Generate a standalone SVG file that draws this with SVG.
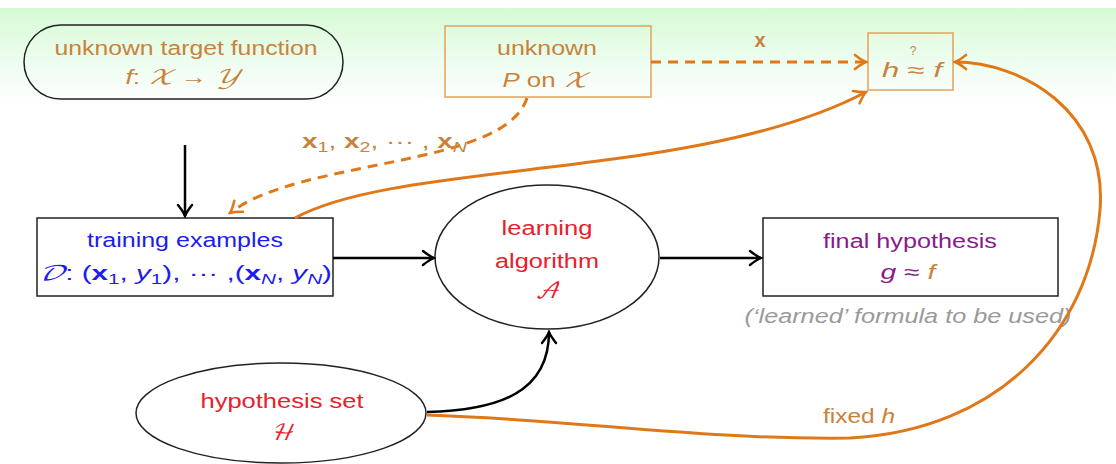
<svg xmlns="http://www.w3.org/2000/svg" width="1116" height="464" viewBox="0 0 1116 464">
<defs>
<linearGradient id="bg" x1="0" y1="0" x2="0" y2="1">
<stop offset="0" stop-color="#d6fbd4"/>
<stop offset="0.55" stop-color="#eefdf0"/>
<stop offset="1" stop-color="#ffffff"/>
</linearGradient>
<marker id="ab" viewBox="-14 -9 16 18" refX="0" refY="0" markerWidth="16" markerHeight="18" markerUnits="userSpaceOnUse" orient="auto">
<path d="M-11,-7 Q-4,-1.5 0,0 Q-4,1.5 -11,7" fill="none" stroke="#000" stroke-width="2.4" stroke-linecap="round"/>
</marker>
<marker id="ao" viewBox="-14 -9 16 18" refX="0" refY="0" markerWidth="16" markerHeight="18" markerUnits="userSpaceOnUse" orient="auto">
<path d="M-11,-7 Q-4,-1.5 0,0 Q-4,1.5 -11,7" fill="none" stroke="#e07818" stroke-width="2.6" stroke-linecap="round"/>
</marker>
</defs>
<style>
text{font-family:"Liberation Sans",Arial,sans-serif;font-size:20px}
.m{text-anchor:middle}
.or{fill:#c8823c}
.bl{fill:#1c1cf0}
.rd{fill:#e8202a}
.pu{fill:#8a1a8a}
.gy{fill:#9a9a9a;font-style:italic}
.it{font-style:italic}
.bd{font-weight:bold}
.box{fill:#fff;stroke:#222;stroke-width:1.5}
.obox{fill:none;stroke:#e3a05c;stroke-width:1.5}
.blk{fill:none;stroke:#000;stroke-width:2.5}
.orl{fill:none;stroke:#e07818;stroke-width:3}
.dash{stroke-dasharray:10 7}
.cal{font-family:"DejaVu Math TeX Gyre","DejaVu Serif","Liberation Serif",serif;font-style:italic}
</style>
<rect x="0" y="8" width="1116" height="100" fill="url(#bg)"/>

<g id="target">
<rect x="24" y="25" width="319" height="74" rx="37" ry="37" fill="none" stroke="#222" stroke-width="1.5"/>
<text class="m or" x="186" y="55" textLength="263" lengthAdjust="spacingAndGlyphs">unknown target function</text>
<text class="m or" x="183" y="84" textLength="115" lengthAdjust="spacingAndGlyphs"><tspan class="it">f</tspan>: <tspan class="cal">𝒳</tspan> → <tspan class="cal">𝒴</tspan></text>
</g>

<g id="pdist">
<rect class="obox" x="445" y="26" width="206" height="71"/>
<text class="m or" x="547" y="55" textLength="100" lengthAdjust="spacingAndGlyphs">unknown</text>
<text class="m or" x="545" y="87" textLength="85" lengthAdjust="spacingAndGlyphs"><tspan class="it">P</tspan> on <tspan class="cal">𝒳</tspan></text>
</g>

<g id="hf">
<rect class="obox" x="868" y="33" width="85" height="57"/>
<text class="m or" x="912" y="77" textLength="60" lengthAdjust="spacingAndGlyphs"><tspan class="it">h</tspan> ≈ <tspan class="it">f</tspan></text>
<text class="m or" x="913" y="55" style="font-size:12px">?</text>
</g>

<g id="training">
<rect class="box" x="37" y="218" width="296" height="78"/>
<text class="m bl" x="185" y="247" textLength="196" lengthAdjust="spacingAndGlyphs">training examples</text>
<text class="m bl" x="185" y="280" textLength="294" lengthAdjust="spacingAndGlyphs"><tspan class="cal">𝒟</tspan>: (<tspan class="bd">x</tspan><tspan style="font-size:14px" dy="4">1</tspan><tspan dy="-4">, </tspan><tspan class="it">y</tspan><tspan style="font-size:14px" dy="4">1</tspan><tspan dy="-4">), ···  ,(</tspan><tspan class="bd">x</tspan><tspan class="it" style="font-size:14px" dy="4">N</tspan><tspan dy="-4">, </tspan><tspan class="it">y</tspan><tspan class="it" style="font-size:14px" dy="4">N</tspan><tspan dy="-4">)</tspan></text>
</g>

<g id="learning">
<ellipse cx="547" cy="257" rx="112" ry="72" fill="#fff" stroke="#222" stroke-width="1.5"/>
<text class="m rd" x="547" y="235" textLength="91" lengthAdjust="spacingAndGlyphs">learning</text>
<text class="m rd" x="547" y="268" textLength="104" lengthAdjust="spacingAndGlyphs">algorithm</text>
<text class="m rd cal" x="547" y="298" style="font-size:22px">𝒜</text>
</g>

<g id="final">
<rect class="box" x="763" y="218" width="295" height="78"/>
<text class="m pu" x="910" y="248" textLength="174" lengthAdjust="spacingAndGlyphs">final hypothesis</text>
<text class="m pu" x="908" y="279" textLength="55" lengthAdjust="spacingAndGlyphs"><tspan class="it">g</tspan> ≈ <tspan class="it or">f</tspan></text>
<text class="m gy" x="908" y="323" textLength="327" lengthAdjust="spacingAndGlyphs">(‘learned’ formula to be used)</text>
</g>

<g id="hset">
<ellipse cx="281" cy="413" rx="145" ry="50" fill="#fff" stroke="#222" stroke-width="1.5"/>
<text class="m rd" x="282" y="408" textLength="163" lengthAdjust="spacingAndGlyphs">hypothesis set</text>
<text class="m rd cal" x="282" y="440" style="font-size:22px">ℋ</text>
</g>

<g id="connectors">
<path class="blk" d="M185,145 L185,216" marker-end="url(#ab)"/>
<path class="blk" d="M333,258 L434,258" marker-end="url(#ab)"/>
<path class="blk" d="M660,258 L761,258" marker-end="url(#ab)"/>
<path class="blk" d="M427,412 C500,410 549,392 549,332" marker-end="url(#ab)"/>
<path class="orl dash" d="M651,62 L866,62" marker-end="url(#ao)"/>
<path class="orl dash" d="M527,98 C505,168 300,158 230,213" marker-end="url(#ao)"/>
<path class="orl" d="M295,218 C400,160 700,180 866,92" marker-end="url(#ao)"/>
<path class="orl" d="M427,415 C580,420 700,440 850,438 C1000,430 1090,330 1100,210 C1108,110 1020,62 955,62" marker-end="url(#ao)"/>
<text class="m or bd" x="760" y="47">x</text>
<text class="or" x="302" y="148" textLength="165" lengthAdjust="spacingAndGlyphs"><tspan class="bd">x</tspan><tspan style="font-size:14px" dy="4">1</tspan><tspan dy="-4">, </tspan><tspan class="bd">x</tspan><tspan style="font-size:14px" dy="4">2</tspan><tspan dy="-4">, ···  , </tspan><tspan class="bd">x</tspan><tspan class="it" style="font-size:14px" dy="4">N</tspan></text>
<text class="or" x="823" y="423" textLength="72" lengthAdjust="spacingAndGlyphs">fixed <tspan class="it">h</tspan></text>
</g>
</svg>
